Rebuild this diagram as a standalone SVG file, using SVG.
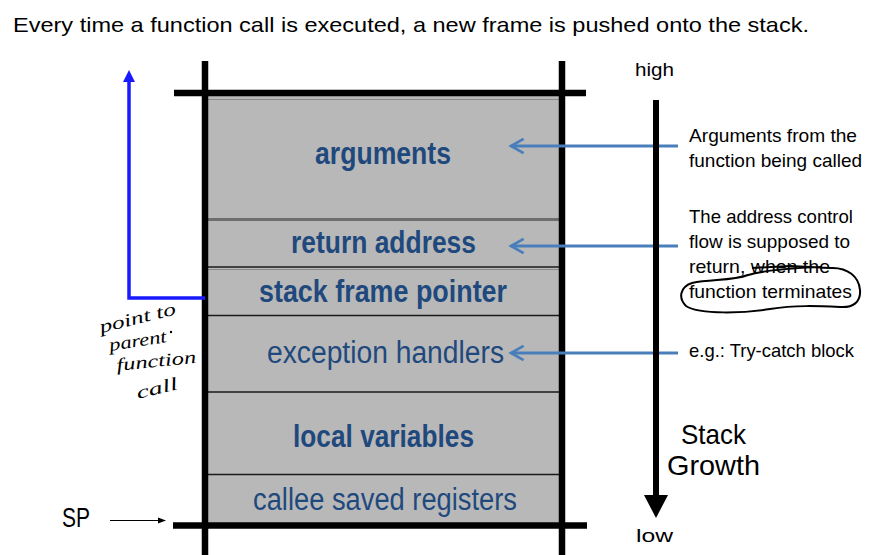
<svg xmlns="http://www.w3.org/2000/svg" width="877" height="555" viewBox="0 0 877 555">
<defs>
<style>
.ttl{font-family:"Liberation Sans",Arial,sans-serif;font-size:21px;fill:#000}
.lbl{font-family:"Liberation Sans",Arial,sans-serif;font-size:31px;fill:#1f497d}
.b{font-weight:bold}
.note{font-family:"Liberation Sans",Arial,sans-serif;font-size:18.5px;fill:#000}
.big{font-family:"Liberation Sans",Arial,sans-serif;font-size:28px;fill:#000}
.hand{font-family:"Liberation Serif","DejaVu Serif",serif;font-style:italic;font-size:18px;fill:#000}
.frame{stroke:#000;stroke-width:6.5;fill:none}
.div{stroke:#1a1a1a;stroke-width:1.5}
.cyan{stroke:#4a7ebb;stroke-width:3;fill:none}
</style>
<marker id="open" viewBox="0 0 20 20" refX="17" refY="10" markerWidth="6" markerHeight="6" orient="auto" markerUnits="strokeWidth">
<path d="M3,2 L17,10 L3,18" fill="none" stroke="#4a7ebb" stroke-width="3"/>
</marker>
</defs>
<rect width="877" height="555" fill="#fff"/>
<text class="ttl" x="13" y="32" textLength="796" lengthAdjust="spacingAndGlyphs">Every time a function call is executed, a new frame is pushed onto the stack.</text>

<g id="stack">
<rect x="207" y="96" width="354" height="427" fill="#b8b8b8"/>
<line x1="208" y1="99.5" x2="560" y2="99.5" stroke="#8a8a8a" stroke-width="1"/>
<line x1="208" y1="219.5" x2="560" y2="219.5" stroke="#6e6e6e" stroke-width="3"/>
<line x1="208" y1="267" x2="560" y2="267" class="div"/>
<line x1="208" y1="269.5" x2="560" y2="269.5" stroke="#8a8a8a" stroke-width="1"/>
<line x1="208" y1="315.5" x2="560" y2="315.5" class="div"/>
<line x1="208" y1="392" x2="560" y2="392" class="div"/>
<line x1="208" y1="474.5" x2="560" y2="474.5" class="div"/>
<line x1="205" y1="61" x2="205" y2="555" class="frame"/>
<line x1="562" y1="61" x2="562" y2="555" class="frame"/>
<line x1="174" y1="93" x2="586" y2="93" class="frame" stroke-width="7"/>
<line x1="173" y1="525.5" x2="587" y2="525.5" class="frame" stroke-width="7"/>
</g>

<g id="arguments"><text class="lbl b" x="315" y="164" textLength="136" lengthAdjust="spacingAndGlyphs">arguments</text></g>
<g id="return-address"><text class="lbl b" x="291" y="253" textLength="185" lengthAdjust="spacingAndGlyphs">return address</text></g>
<g id="stack-frame-pointer"><text class="lbl b" x="259" y="302" textLength="248" lengthAdjust="spacingAndGlyphs">stack frame pointer</text></g>
<g id="exception-handlers"><text class="lbl" x="267" y="362.5" textLength="237" lengthAdjust="spacingAndGlyphs">exception handlers</text></g>
<g id="local-variables"><text class="lbl b" x="293" y="447" textLength="181" lengthAdjust="spacingAndGlyphs">local variables</text></g>
<g id="callee-saved-registers"><text class="lbl" x="253" y="510" textLength="264" lengthAdjust="spacingAndGlyphs">callee saved registers</text></g>

<g id="notes">
<text class="note" x="689" y="142" textLength="168" lengthAdjust="spacingAndGlyphs">Arguments from the</text>
<text class="note" x="689" y="167" textLength="173" lengthAdjust="spacingAndGlyphs">function being called</text>
<text class="note" x="689" y="223" textLength="164" lengthAdjust="spacingAndGlyphs">The address control</text>
<text class="note" x="689" y="248" textLength="161" lengthAdjust="spacingAndGlyphs">flow is supposed to</text>
<text class="note" x="689" y="273" textLength="141" lengthAdjust="spacingAndGlyphs">return, when the</text>
<text class="note" x="689" y="298" textLength="163" lengthAdjust="spacingAndGlyphs">function terminates</text>
<text class="note" x="689" y="357" textLength="165" lengthAdjust="spacingAndGlyphs">e.g.: Try-catch block</text>
<path d="M752,268 L790,266 L830,268 C848,267 859,277 860,290 C861,302 853,308 840,307 C818,306 795,305 770,309 C745,313 700,315 686,306 C678,298 680,287 692,283 C712,279 732,281 748,275 C765,270 805,267 822,267" fill="none" stroke="#000" stroke-width="2"/>
</g>

<g id="high"><text class="note" x="635" y="76" textLength="39" lengthAdjust="spacingAndGlyphs">high</text></g>
<g id="low"><text class="note" x="636" y="542" textLength="37" lengthAdjust="spacingAndGlyphs">low</text></g>
<g id="stack-growth">
<text class="big" x="681" y="444" textLength="65" lengthAdjust="spacingAndGlyphs">Stack</text>
<text class="big" x="667" y="475" textLength="93" lengthAdjust="spacingAndGlyphs">Growth</text>
</g>
<g id="sp"><text class="big" x="62" y="527" font-size="26" textLength="28" lengthAdjust="spacingAndGlyphs">SP</text></g>

<g id="handwriting">
<text class="hand" transform="translate(101,333) rotate(-14)" textLength="78" lengthAdjust="spacingAndGlyphs">point to</text>
<text class="hand" transform="translate(110,351) rotate(-9)" textLength="58" lengthAdjust="spacingAndGlyphs">parent</text>
<circle cx="171" cy="332" r="1.2" fill="#000"/>
<text class="hand" transform="translate(117,371) rotate(-6)" textLength="80" lengthAdjust="spacingAndGlyphs">function</text>
<text class="hand" transform="translate(138,399) rotate(-14)" textLength="42" lengthAdjust="spacingAndGlyphs">call</text>
</g>

<g id="connectors">
<line x1="678" y1="146" x2="511" y2="146" class="cyan" marker-end="url(#open)"/>
<line x1="678" y1="246" x2="511" y2="246" class="cyan" marker-end="url(#open)"/>
<line x1="678" y1="353" x2="511" y2="353" class="cyan" marker-end="url(#open)"/>
<polyline points="205,298 129,298 129,80" fill="none" stroke="#1a1aff" stroke-width="3.5"/>
<polygon points="129,70 123,82 135,82" fill="#1a1aff"/>
<line x1="656" y1="100" x2="656" y2="497" stroke="#000" stroke-width="6"/>
<polygon points="656,518 644,495 668,495" fill="#000"/>
<line x1="110" y1="520.5" x2="160" y2="520.5" stroke="#000" stroke-width="1.2"/>
<polygon points="166,520.5 158,517.5 158,523.5" fill="#000"/>
</g>
</svg>
